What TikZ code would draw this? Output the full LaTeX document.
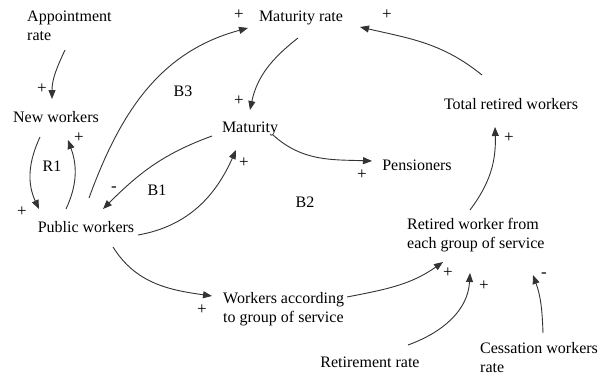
\documentclass[tikz,border=0pt]{standalone}
\usepackage{fontspec}
\setmainfont{Liberation Serif}
\newfontfamily\diagfont{Liberation Serif}
\usetikzlibrary{arrows.meta}
\definecolor{linegray}{HTML}{333333}
\begin{document}
\begin{tikzpicture}[x=1pt,y=-1pt,
  lbl/.style={inner sep=0pt, text=black, font=\diagfont\fontsize{16}{19}\selectfont},
  lbll/.style={lbl, align=left, anchor=west},
  sgn/.style={inner sep=0pt, text=black, font=\diagfont\fontsize{17}{19}\selectfont},
  link/.style={draw=linegray, line width=0.9pt, -{Triangle[length=9pt,width=7pt]}},
]
\useasboundingbox[fill=white] (0,0) rectangle (606,376);

% variables
\node[lbll] (ar)  at (27,26)    {Appointment\\rate};
\node[lbl]  (nw)  at (56,117)   {New workers};
\node[lbl]  (pw)  at (86,227)   {Public workers};
\node[lbl]  (mr)  at (301,18)   {Maturity rate};
\node[lbl]  (mat) at (250,129)  {Maturity};
\node[lbl]  (pen) at (417,165)  {Pensioners};
\node[lbl]  (trw) at (511,104)  {Total retired workers};
\node[lbll] (rw)  at (407,235)  {Retired worker from\\each group of service};
\node[lbll] (wa)  at (223,309)  {Workers according\\to group of service};
\node[lbl]  (rr)  at (370,362)  {Retirement rate};
\node[lbll] (cw)  at (480,357.5){Cessation workers\\rate};

% loop labels
\node[lbl] (lb3) at (183,91)  {B3};
\node[lbl] (lr1) at (52,166)  {R1};
\node[lbl] (lb1) at (157,190) {B1};
\node[lbl] (lb2) at (305,202) {B2};

% links
\draw[link] ([shift={(38,24)}]ar.west) to[out=245,in=90] ([shift={(-4,-18)}]nw.center);
\draw[link] ([shift={(-16,20)}]nw.center) to[out=245,in=115] ([shift={(-47,-18)}]pw.center);
\draw[link] ([shift={(-20,-18)}]pw.center) to[out=65,in=-70] ([shift={(12,23)}]nw.center);
\draw[link] ([shift={(3,-29)}]pw.center) to[out=70,in=195] ([shift={(-53,10)}]mr.center);
\draw[link] ([shift={(-3,20)}]mr.center) to[out=218,in=78] ([shift={(0,-19)}]mat.center);
\draw[link] ([shift={(-38,7)}]mat.center) to[out=200,in=45] ([shift={(17,-18)}]pw.center);
\draw[link] ([shift={(52,8)}]pw.center) to[out=10,in=246] ([shift={(-14,21)}]mat.center);
\draw[link] ([shift={(23,6)}]mat.center) to[out=-42,in=178] ([shift={(-45,-4)}]pen.center);
\draw[link] ([shift={(-29,-29)}]trw.center) to[out=141,in=-13] ([shift={(59,9)}]mr.center);
\draw[link] ([shift={(63,-25)}]rw.west) to[out=53,in=-88] ([shift={(-16,23)}]trw.center);
\draw[link] ([shift={(27,20)}]pw.center) to[out=-58,in=172] ([shift={(-11,-13)}]wa.west);
\draw[link] ([shift={(124,-12)}]wa.west) to[out=11,in=215] ([shift={(36,27)}]rw.west);
\draw[link] ([shift={(38,-17)}]rr.center) to[out=20,in=-93] ([shift={(63,38)}]rw.west);
\draw[link] ([shift={(63,-24.5)}]cw.west) to[out=92,in=-70] ([shift={(126,40)}]rw.west);

% polarity signs
\node[sgn] (s1)  at (42,89)   {+};
\node[sgn] (s2)  at (79,138)  {+};
\node[sgn] (s3)  at (22,212)  {+};
\node[sgn] (s4)  at (114,189) {-};
\node[sgn] (s5)  at (244,163) {+};
\node[sgn] (s6)  at (239,101) {+};
\node[sgn] (s7)  at (239,15)  {+};
\node[sgn] (s8)  at (387,15)  {+};
\node[sgn] (s9)  at (362,175) {+};
\node[sgn] (s10) at (509,138) {+};
\node[sgn] (s11) at (202,310) {+};
\node[sgn] (s12) at (448,273) {+};
\node[sgn] (s13) at (484,286) {+};
\node[sgn] (s14) at (544,275) {-};
\end{tikzpicture}
\end{document}
